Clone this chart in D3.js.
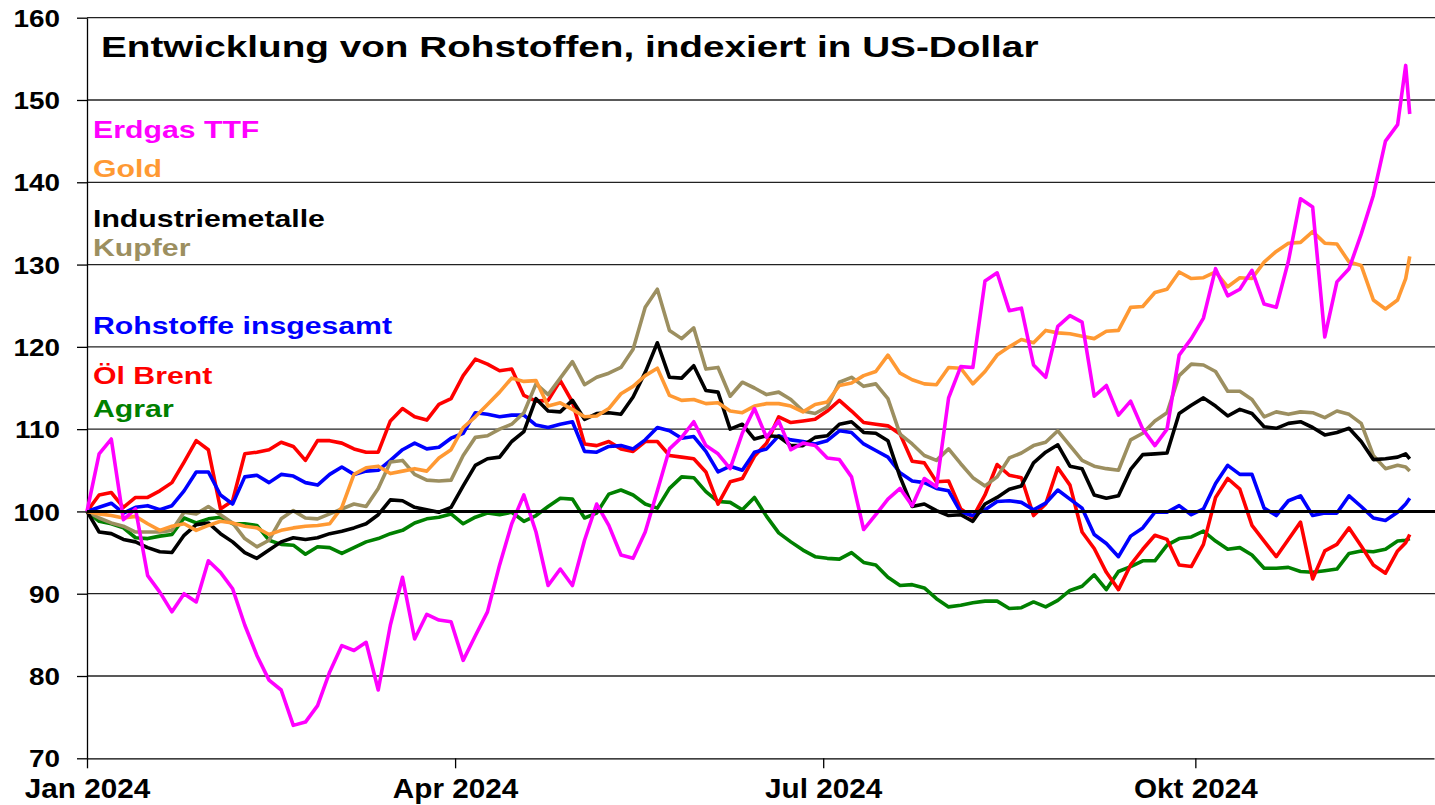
<!DOCTYPE html>
<html>
<head>
<meta charset="utf-8">
<script src="https://cdn.jsdelivr.net/npm/d3@7"></script>
<style>
  body { margin: 0; background: #fff; }
  svg text { font-family: "Liberation Sans", Arial, sans-serif; font-weight: bold; }
</style>
</head>
<body>
<svg width="1435" height="805"></svg>
<script>
// sample dates: every third day from 1 Jan, plus the last two trading days
var dates = d3.timeDay.range(new Date(2024, 0, 1), new Date(2024, 10, 21), 3)
    .concat([new Date(2024, 10, 22), new Date(2024, 10, 23)]);

var erdgas = [100,107,108.8,99,100.3,92.2,90.2,87.8,90,89,
  94,92.6,90.6,86.2,82.5,79.5,78.3,74,74.4,76.4,
  80.5,83.7,83.1,84.1,78.3,86.2,92,84.5,87.5,86.8,
  86.6,81.9,84.9,87.8,93.5,98.5,102,97.5,91,93,
  91,96.5,100.9,98.3,94.7,94.3,97.5,102.5,107.6,109,
  110.9,108,107,105.2,109.5,112.5,109,111,107.5,108.3,
  108,106.5,106.3,104.2,97.8,99.6,101.5,102.8,100.7,104,
  103,113.8,117.6,117.5,128,129,124.4,124.7,117.8,116.3,
  122.5,123.8,123,114,115.3,111.7,113.4,110,108,110,
  119,121,123.5,129.5,126.2,127,129.3,125.2,124.8,130.4,
  138,137,121.2,127.9,129.5,133.7,138.4,145,147,
  154.2,148.3];

var gold = [100,99.7,99.5,99.2,99.4,98.5,97.7,98.2,98.5,97.7,
  98.3,98.8,98.6,98.2,98,97.2,97.7,98,98.2,98.3,
  98.5,100.5,104.5,105.3,105.5,104.6,104.9,105.2,104.9,106.5,
  107.5,110.2,111.5,113,114.5,116.2,115.8,115.9,112.8,113.2,
  112.4,111.5,111.6,112.5,114.3,115.2,116.5,117.4,114.1,113.5,
  113.6,113.1,113.2,112.2,112,112.8,113.1,113.1,112.8,112.1,
  113,113.3,115.3,115.6,116.5,117,119,116.8,116,115.5,
  115.4,117.5,117.4,115.5,117,119,120,120.9,120.5,122,
  121.7,121.6,121.3,121,121.9,122,124.8,124.9,126.6,127,
  129.1,128.3,128.4,129.1,127.3,128.4,128.3,130.3,131.6,132.6,
  132.7,134,132.6,132.5,130.3,129.9,125.7,124.6,125.7,
  128.3,131];

var industriemetalle = [100,97.5,97.3,96.6,96.3,95.6,95.1,95,97.1,98.4,
  98.6,97.3,96.3,95,94.3,95.3,96.3,96.8,96.6,96.8,
  97.3,97.6,98,98.5,99.6,101.4,101.3,100.5,100.2,99.9,
  100.5,103.1,105.6,106.4,106.6,108.5,109.7,113.7,112.2,112.1,
  113.5,111.2,111.9,112,111.8,113.9,116.9,120.5,116.3,116.2,
  117.7,114.7,114.5,110,110.6,108.8,109.2,109.1,108,108,
  109,109.2,110.6,110.9,109.6,109.5,108.6,104.2,100.6,100.9,
  100.1,99.5,99.6,98.8,100.9,101.7,102.7,103.1,105.9,107.2,
  108.1,105.5,105.2,102,101.6,101.9,105.1,106.9,107,107.1,
  111.9,112.9,113.8,112.8,111.6,112.4,111.9,110.3,110.1,110.7,
  110.9,110.2,109.3,109.6,110.1,108.5,106.3,106.4,106.6,
  107,106.4];

var kupfer = [100,99.2,98.6,98.2,97.5,97.5,97.5,97.7,99.9,99.7,
  100.6,99.6,98.6,96.7,95.7,96.5,99.1,100.1,99.2,99.1,
  99.7,100.3,100.9,100.6,102.8,106,106.2,104.5,103.8,103.7,
  103.8,106.8,109,109.2,110,110.6,112,115.5,114.2,116.2,
  118.2,115.4,116.3,116.8,117.5,119.7,124.8,127,122,121,
  122.3,117.3,117.5,114,115.7,115,114.2,114.5,113.6,112.2,
  111.9,112.7,115.7,116.3,115.2,115.5,113.7,109.4,108.2,106.8,
  106.2,107.6,105.8,104.1,103.1,104.2,106.5,107.1,108,108.4,
  109.8,108,106.2,105.5,105.2,105,108.7,109.5,111,112,
  116.5,117.9,117.8,117,114.6,114.6,113.6,111.5,112.1,111.8,
  112.1,112,111.4,112.2,111.8,110.7,106.8,105.2,105.6,
  105.4,104.9];

var rohstoffe = [100,100.5,101,99.8,100.5,100.7,100.2,100.7,102.5,104.8,
  104.8,102,100.9,104.2,104.4,103.5,104.5,104.3,103.5,103.2,
  104.5,105.4,104.5,104.9,105,106.2,107.5,108.3,107.6,107.8,
  108.9,109.5,112,111.8,111.5,111.7,111.7,110.5,110.2,110.6,
  110.9,107.3,107.2,107.9,108,107.6,108.7,110.2,109.8,108.9,
  109.1,107.3,104.8,105.5,105,107.2,107.6,109.2,108.7,108.5,
  108.2,108.6,109.8,109.6,108.2,107.4,106.6,104.7,103.7,103.5,
  102.8,102.5,99.9,99.5,100.2,101.2,101.3,101.1,100.2,101,
  102.6,101.5,100.4,97.2,96.1,94.5,97,98,99.9,99.9,
  100.7,99.6,100.3,103.4,105.6,104.5,104.5,100.4,99.5,101.3,
  101.9,99.5,99.8,99.8,101.9,100.6,99.2,98.9,99.9,
  100.9,101.6];

var brent = [100,102,102.3,100.5,101.7,101.7,102.5,103.5,106,108.6,
  107.5,100.3,101.3,107,107.2,107.5,108.4,107.9,106.2,108.6,
  108.6,108.3,107.6,107.2,107.2,111,112.5,111.5,111.1,113,
  113.7,116.5,118.5,117.9,117.1,117.3,114.1,113.4,113.5,115.9,
  113.3,108.2,108,108.5,107.6,107.3,108.5,108.5,106.8,106.6,
  106.4,104.8,100.9,103.6,104,106.7,108.3,111.5,110.8,111,
  111.2,112.2,113.5,112.2,110.8,110.6,110.4,109.4,106.1,105.9,
  103.6,103.7,100.3,99.3,102,105.7,104.4,104.1,99.5,100.9,
  105.3,103.2,97.5,95.5,92.6,90.5,93.5,95.4,97.1,96.6,
  93.5,93.3,96,101.7,104,102.7,98.3,96.4,94.5,96.6,
  98.7,91.8,95.2,96,98,95.8,93.5,92.5,95.2,
  96.2,97.2];

var agrar = [100,98.8,98.5,98,96.8,96.7,97,97.2,99.2,98.6,
  99.1,99.3,98.5,98.5,98.3,96.5,96,95.9,94.8,95.7,
  95.6,94.9,95.6,96.3,96.7,97.3,97.7,98.6,99.1,99.3,
  99.7,98.5,99.3,99.8,99.6,99.9,98.8,99.5,100.6,101.6,
  101.5,99.2,99.8,102.1,102.6,102,100.9,100.4,102.8,104.2,
  104.1,102.4,101.2,101.1,100.2,101.7,99.4,97.4,96.3,95.3,
  94.5,94.3,94.2,95,93.8,93.5,92,91,91.1,90.7,
  89.4,88.4,88.6,88.9,89.1,89.1,88.2,88.3,89,88.4,
  89.2,90.4,90.9,92.3,90.5,92.7,93.3,94,94,95.9,
  96.7,96.9,97.6,96.4,95.4,95.6,94.7,93.1,93.1,93.2,
  92.7,92.6,92.8,93,94.9,95.2,95.1,95.4,96.4,
  96.5,96.7];

var seriesNames = ["Erdgas TTF", "Gold", "Industriemetalle", "Kupfer",
                   "Rohstoffe insgesamt", "Öl Brent", "Agrar"];
var seriesValues = [erdgas, gold, industriemetalle, kupfer, rohstoffe, brent, agrar];
var seriesColors = ["#ff00ff", "#ff9933", "#000000", "#9c8f60", "#0000ff", "#ff0000", "#008000"];

var yTicks = [70, 80, 90, 100, 110, 120, 130, 140, 150, 160];
var xTickDates = [new Date(2024, 0, 1), new Date(2024, 3, 1), new Date(2024, 6, 1), new Date(2024, 9, 1)];
var xTickLabels = ["Jan 2024", "Apr 2024", "Jul 2024", "Okt 2024"];

var title = "Entwicklung von Rohstoffen, indexiert in US-Dollar";

seriesValues.forEach(function(s, i) {
    if (s.length != dates.length) throw new Error(seriesNames[i] + ": " + s.length + " values, " + dates.length + " dates");
});

function main() {
    var svg = d3.select("svg"),
        left = 87,
        right = 1435,
        top = 17.7,
        bottom = 758.3;

    var xScale = d3.scaleTime()
                   .domain([new Date(2024, 0, 1), new Date(2024, 10, 29)])
                   .range([left, right - 1]),
        yScale = d3.scaleLinear().domain([70, 160]).range([bottom, top]);

    // stretch text horizontally like the original (it was drawn wider than Arial)
    function stretch(sel, k) {
        sel.each(function() {
            var w = this.getComputedTextLength();
            d3.select(this).attr("textLength", w * k).attr("lengthAdjust", "spacingAndGlyphs");
        });
    }

    // grid
    svg.append("g")
       .selectAll("line")
       .data(yTicks.filter(function(d) { return d != 100 && d != 70; }))
       .enter().append("line")
       .attr("x1", left).attr("x2", right)
       .attr("y1", function(d) { return yScale(d); })
       .attr("y2", function(d) { return yScale(d); })
       .attr("stroke", "#222")
       .attr("stroke-width", 1.3);

    // y axis
    var yAxis = svg.append("g")
       .attr("transform", "translate(" + left + ",0)")
       .call(d3.axisLeft(yScale).tickValues(yTicks).tickSize(10).tickSizeOuter(0).tickPadding(17));
    yAxis.select(".domain").attr("stroke", "#000").attr("stroke-width", 1.3);
    yAxis.selectAll(".tick line").attr("stroke", "#000").attr("stroke-width", 1.3);
    yAxis.selectAll("text")
         .attr("font-size", "24px")
         .attr("fill", "#000")
         .attr("dy", "0.36em");
    stretch(yAxis.selectAll("text"), 1.16);

    // x axis
    var xAxis = svg.append("g")
       .attr("transform", "translate(0," + bottom + ")")
       .call(d3.axisBottom(xScale)
               .tickValues(xTickDates)
               .tickSize(10)
               .tickSizeOuter(0)
               .tickPadding(11)
               .tickFormat(function(d, i) { return xTickLabels[i]; }));
    xAxis.select(".domain").attr("stroke", "#000").attr("stroke-width", 1.3);
    xAxis.selectAll(".tick line").attr("stroke", "#000").attr("stroke-width", 1.3);
    xAxis.selectAll("text")
         .attr("font-size", "27px")
         .attr("fill", "#000");
    stretch(xAxis.selectAll("text"), 1.1);

    // series
    var line = d3.line()
                 .x(function(d, i) { return xScale(dates[i]); })
                 .y(function(d) { return yScale(d); });

    var order = [6, 5, 4, 3, 2, 1, 0];
    svg.append("g")
       .selectAll("path")
       .data(order)
       .enter().append("path")
       .attr("d", function(k) { return line(seriesValues[k]); })
       .attr("fill", "none")
       .attr("stroke", function(k) { return seriesColors[k]; })
       .attr("stroke-width", 3.6)
       .attr("stroke-linejoin", "round");

    // 100 line on top
    svg.append("line")
       .attr("x1", left).attr("x2", right)
       .attr("y1", yScale(100)).attr("y2", yScale(100))
       .attr("stroke", "#000")
       .attr("stroke-width", 3);

    // title
    var t = svg.append("text")
       .attr("x", 101)
       .attr("y", 57)
       .attr("font-size", "30px")
       .attr("fill", "#000")
       .text(title);
    stretch(t, 1.29);

    // labels in place of a legend
    var labelY = [138, 177, 227, 256, 334, 384, 417];
    var labels = svg.append("g")
       .selectAll("text")
       .data(seriesNames)
       .enter().append("text")
       .attr("x", 93)
       .attr("y", function(d, i) { return labelY[i]; })
       .attr("font-size", "24px")
       .attr("fill", function(d, i) { return seriesColors[i]; })
       .text(function(d) { return d; });
    stretch(labels, 1.26);
}

main();
</script>
</body>
</html>
